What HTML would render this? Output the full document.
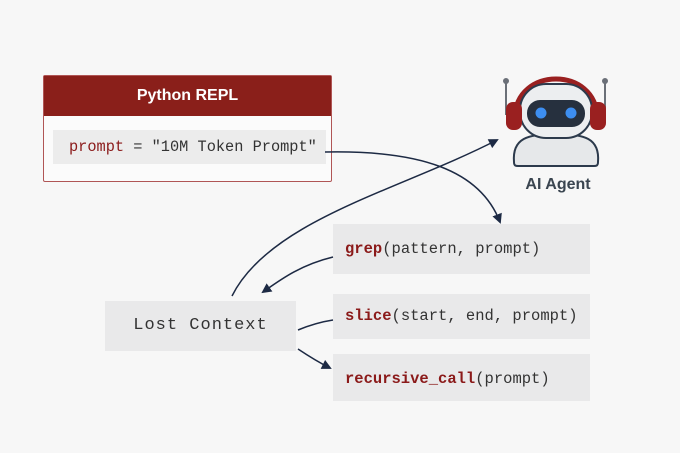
<!DOCTYPE html>
<html><head><style>
body{margin:0;width:680px;height:453px;background:#f7f7f7;position:relative;font-family:"Liberation Sans",sans-serif;overflow:hidden}
.mono{font-family:"Liberation Mono","DejaVu Sans Mono",monospace}
.box{position:absolute;background:#e9e9ea}
.r{color:#8b1a1a;font-weight:bold}
</style></head><body>
<div style="position:absolute;left:43px;top:75px;width:289px;height:107px;border:1px solid #b05555;background:#fbfbfb;border-radius:2px;box-sizing:border-box">
<div style="height:40px;background:#8a1f1a;color:#fff;font-weight:bold;font-size:16px;text-align:center;line-height:40px">Python REPL</div>
<div class="mono" style="position:absolute;left:9px;top:54px;width:273px;height:34px;background:#ececec;line-height:34px;font-size:15.3px;color:#333;padding-left:16px;box-sizing:border-box"><span class="r" style="font-weight:normal">prompt</span> = "10M Token Prompt"</div>
</div>
<div class="box mono" style="left:333px;top:224px;width:257px;height:50px;line-height:50px;font-size:15.5px;color:#333;padding-left:12px;box-sizing:border-box"><span class="r">grep</span>(pattern, prompt)</div>
<div class="box mono" style="left:333px;top:294px;width:257px;height:45px;line-height:45px;font-size:15.5px;color:#333;padding-left:12px;box-sizing:border-box"><span class="r">slice</span>(start, end, prompt)</div>
<div class="box mono" style="left:333px;top:354px;width:257px;height:47px;line-height:50px;font-size:15.5px;color:#333;padding-left:12px;box-sizing:border-box"><span class="r">recursive_call</span>(prompt)</div>
<div class="box mono" style="left:105px;top:301px;width:191px;height:50px;line-height:50px;font-size:17px;color:#333;text-align:center;letter-spacing:1px">Lost Context</div>
<div style="position:absolute;left:505px;top:176px;width:106px;text-align:center;font-weight:bold;font-size:16px;color:#3a4550">AI Agent</div>
<svg width="680" height="453" style="position:absolute;left:0;top:0">
<defs><marker id="a" markerWidth="10" markerHeight="10" refX="8" refY="5" orient="auto" markerUnits="userSpaceOnUse"><path d="M0,0 L10,5 L0,10 Z" fill="#1d2a44"/></marker></defs>
<g fill="none" stroke="#1d2a44" stroke-width="1.5">
<path d="M325,152 C420,150 480,170 500,222" marker-end="url(#a)"/>
<path d="M232,296 C270,220 400,190 497,140" marker-end="url(#a)"/>
<path d="M333,257 C300,265 280,280 263,292" marker-end="url(#a)"/>
<path d="M298,330 C310,325 320,322 333,320"/>
<path d="M298,349 C310,357 318,362 330,368" marker-end="url(#a)"/>
</g>
<line x1="506" y1="82" x2="506" y2="115" stroke="#6b7078" stroke-width="2"/><circle cx="506" cy="81" r="3" fill="#6b7078"/>
<line x1="605" y1="82" x2="605" y2="115" stroke="#6b7078" stroke-width="2"/><circle cx="605" cy="81" r="3" fill="#6b7078"/>
<path d="M515,118 C515,66 597,66 597,118" fill="none" stroke="#9a2020" stroke-width="5"/>
<path d="M514,162 C512,138 528,134 556,134 C584,134 600,138 598,162 C598,166 596,166 594,166 L518,166 C516,166 514,166 514,162 Z" fill="#e6e8ea" stroke="#2c3a4c" stroke-width="2"/>
<rect x="520" y="84" width="72" height="54" rx="26" fill="#eceef0" stroke="#2c3a4c" stroke-width="2"/>
<rect x="506" y="102" width="16" height="28" rx="7" fill="#9a2020"/>
<rect x="590" y="102" width="16" height="28" rx="7" fill="#9a2020"/>
<rect x="527" y="100" width="58" height="27" rx="13" fill="#26303e"/>
<circle cx="541" cy="113" r="5.5" fill="#3d8ef0"/><circle cx="571" cy="113" r="5.5" fill="#3d8ef0"/>
</svg>
</body></html>
